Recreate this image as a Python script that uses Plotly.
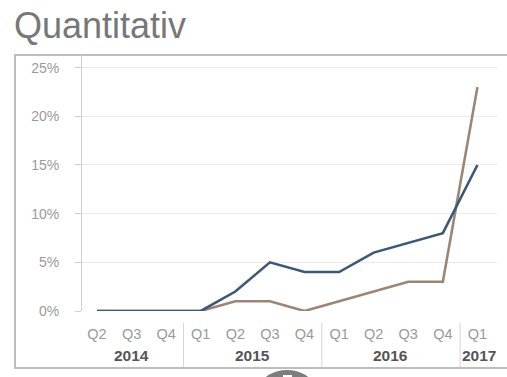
import plotly.graph_objects as go

quarters = ["Q2", "Q3", "Q4", "Q1", "Q2", "Q3", "Q4", "Q1", "Q2", "Q3", "Q4", "Q1"]
years = ["2014", "2015", "2016", "2017"]
year_centers = [1, 4.5, 8.5, 11.05]
year_separators = [2.5, 6.5, 10.5]
series_blue = [0, 0, 0, 0, 2, 5, 4, 4, 6, 7, 8, 15]
series_brown = [0, 0, 0, 0, 1, 1, 0, 1, 2, 3, 3, 23]
y_ticks = [0, 5, 10, 15, 20, 25]
y_ticktext = ["0%", "5%", "10%", "15%", "20%", "25%"]

W, H = 507, 377
PL, PR, PT, PB = 82, 497, 55, 311


def px_x(px):
    return (px - PL) / (PR - PL)


def px_y(py):
    return (PB - py) / (PB - PT)


idx = list(range(len(quarters)))

fig = go.Figure()
fig.add_trace(go.Scatter(x=idx, y=series_brown, mode="lines",
                         line=dict(color="#9d8576", width=2.6), showlegend=False))
fig.add_trace(go.Scatter(x=idx, y=series_blue, mode="lines",
                         line=dict(color="#3c5879", width=2.6), showlegend=False))

fig.update_layout(
    width=W, height=H,
    margin=dict(l=PL, r=W - PR, t=PT, b=H - PB),
    paper_bgcolor="white", plot_bgcolor="white",
    font=dict(family="Liberation Sans, Arial, sans-serif"),
    xaxis=dict(range=[-0.434, 11.566], tickmode="array", tickvals=idx, ticktext=quarters,
               showgrid=False, zeroline=False, showline=False, ticks="",
               tickfont=dict(size=14.5, color="#9a9a9a"), ticklabelstandoff=12, fixedrange=True),
    yaxis=dict(range=[0, 26.3], tickmode="array", tickvals=y_ticks, ticktext=y_ticktext,
               showgrid=True, gridcolor="#ebebeb", gridwidth=1, zeroline=False,
               showline=True, linecolor="#cfcfcf", linewidth=1,
               ticks="outside", ticklen=6, tickcolor="#cfcfcf",
               tickfont=dict(size=14, color="#9a9a9a"), ticklabelstandoff=13, fixedrange=True),
)

# Year labels
for yr, c in zip(years, year_centers):
    fig.add_annotation(x=c, y=px_y(355), xref="x", yref="paper", text="<b>" + yr + "</b>",
                       showarrow=False, font=dict(size=15.5, color="#555555"),
                       xanchor="center", yanchor="middle")

# Year separators
for s in year_separators:
    fig.add_shape(type="line", xref="x", yref="paper", x0=s, x1=s,
                  y0=px_y(323), y1=px_y(367), line=dict(color="#d5d5d5", width=1))

# Card border
fig.add_shape(type="rect", xref="paper", yref="paper",
              x0=px_x(15), x1=px_x(520), y0=px_y(368), y1=px_y(55),
              line=dict(color="#bdbdbd", width=2), layer="below")

# Title
fig.add_annotation(x=px_x(12), y=px_y(25), xref="paper", yref="paper", text="Quantitativ",
                   showarrow=False, font=dict(size=36, color="#777777"),
                   xanchor="left", yanchor="middle")

# Bottom tab
fig.add_shape(type="circle", xref="paper", yref="paper",
              x0=px_x(262), x1=px_x(312), y0=px_y(400), y1=px_y(370),
              fillcolor="#7d7d7d", line=dict(width=0))
fig.add_shape(type="rect", xref="paper", yref="paper",
              x0=px_x(283), x1=px_x(292), y0=px_y(380), y1=px_y(375),
              fillcolor="white", line=dict(width=0))

fig.write_html("out.html")
